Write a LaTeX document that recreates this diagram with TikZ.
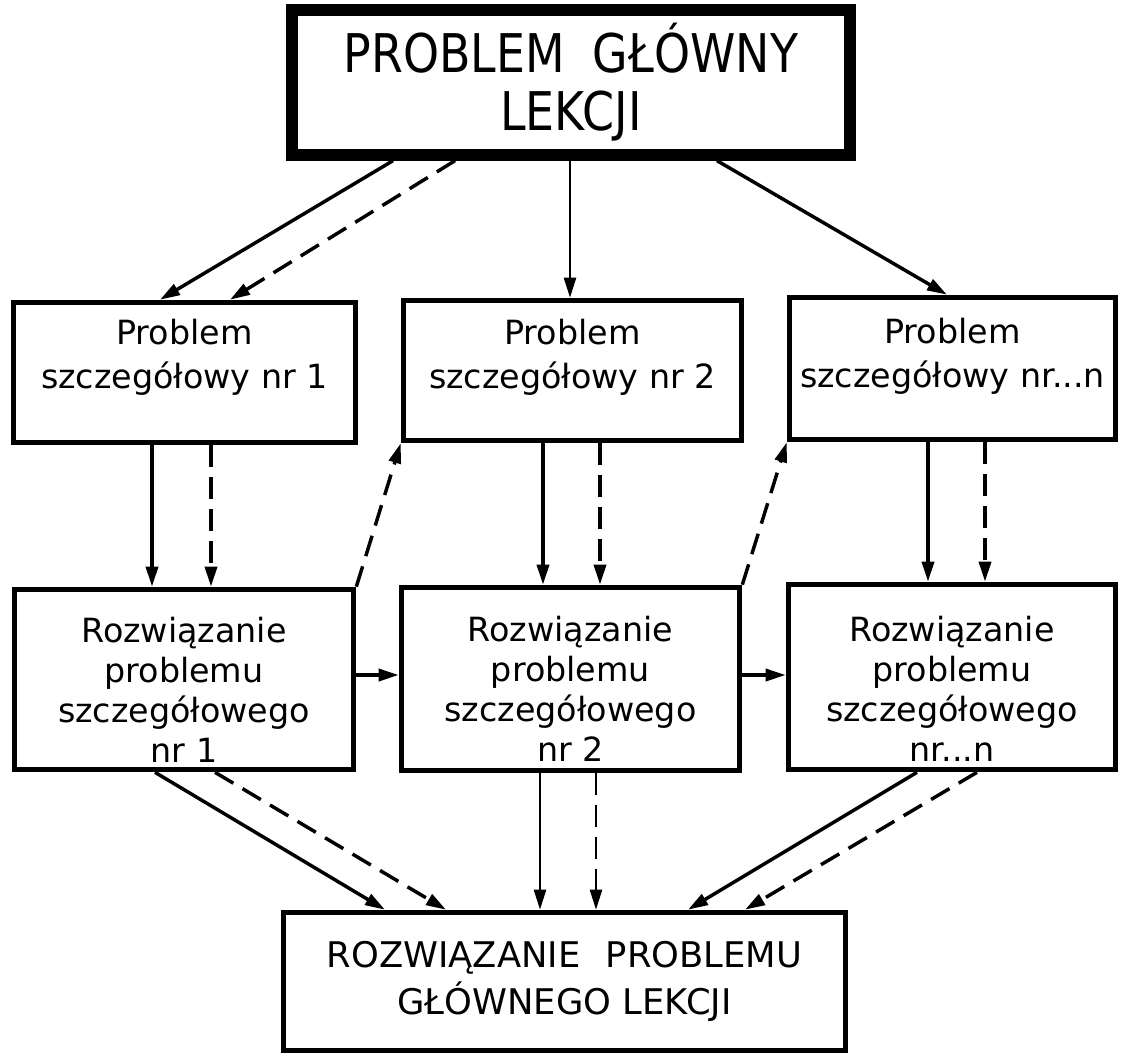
\documentclass[tikz,border=0pt]{standalone}
\usepackage{fontspec}
\setmainfont{DejaVu Sans}
\newfontfamily\narrowfont{DejaVu Sans}[FakeStretch=0.86]
\usetikzlibrary{arrows.meta,calc}

\tikzset{every picture/.style={line width=0.75pt}}
\tikzset{
	headbox/.style={draw, line width=8.5pt, inner sep=0pt, align=center},
	stepbox/.style={draw, line width=4.2pt, inner sep=0pt},
	lbl/.style={align=center, inner sep=0pt},
	arr/.style={line width=2.6pt, -{Triangle[length=15pt,width=9pt]}},
	thinarr/.style={arr, line width=1.7pt},
	darr/.style={arr, dash pattern=on 16pt off 8pt},
	thindarr/.style={darr, line width=1.7pt}
}

\begin{document}
\begin{tikzpicture}[x=0.75pt,y=0.75pt,yscale=-1,xscale=1]
		\useasboundingbox (0,0) rectangle (1125,1057);
		
		% main problem
		\node[headbox, minimum width=418.5pt, minimum height=108.75pt, font=\narrowfont\fontsize{40}{43.5}\selectfont] (T) at (571,82.5) {PROBLEM\hspace{0.25em} GŁÓWNY\\LEKCJI};
		
		% detailed problems
		\node[stepbox, minimum width=256.5pt, minimum height=105pt] (p1) at (184.5,372.5) {};
		\node[stepbox, minimum width=253.5pt, minimum height=105pt] (p2) at (572.5,370.5) {};
		\node[stepbox, minimum width=244.5pt, minimum height=106.5pt] (p3) at (952.5,368.5) {};
		
		% solutions
		\node[stepbox, minimum width=254.25pt, minimum height=135pt] (r1) at (184,679.5) {};
		\node[stepbox, minimum width=253.5pt, minimum height=137.25pt] (r2) at (570.5,679) {};
		\node[stepbox, minimum width=245.25pt, minimum height=138.75pt] (r3) at (952,677) {};
		
		% main solution
		\node[stepbox, align=center, minimum width=421.5pt, minimum height=103.5pt, font=\fontsize{26.5}{35}\selectfont] (B) at (564.5,981.5) {\raisebox{-4pt}{\shortstack{ROZWIĄZANIE\hspace{0.4em} PROBLEMU\\[2pt]GŁÓWNEGO LEKCJI}}};
		
		% Text Node
		\node[lbl, font=\fontsize{25}{33}\selectfont] (p1t) at ($(p1)+(0,-15)$) {Problem\\szczegółowy nr 1};
		\node[lbl, font=\fontsize{25}{33}\selectfont] (p2t) at ($(p2)+(0,-13)$) {Problem\\szczegółowy nr 2};
		\node[lbl, font=\fontsize{25}{33}\selectfont] (p3t) at ($(p3)+(0,-12)$) {Problem\\szczegółowy nr...n};
		\node[lbl, font=\fontsize{25}{30}\selectfont] (r1t) at ($(r1)+(0,10)$) {Rozwiązanie\\problemu\\szczegółowego\\nr 1};
		\node[lbl, font=\fontsize{25}{30}\selectfont] (r2t) at ($(r2)+(0,10)$) {Rozwiązanie\\problemu\\szczegółowego\\nr 2};
		\node[lbl, font=\fontsize{25}{30}\selectfont] (r3t) at ($(r3)+(0,12)$) {Rozwiązanie\\problemu\\szczegółowego\\nr...n};
		
		% main problem -> detailed problems
		\draw[arr] (T.south -| 393,0) -- (p1.north -| 160,0);
		\draw[darr] (T.south -| 455,0) -- (p1.north -| 230,0);
		\draw[thinarr] (T.south -| 570,0) -- (p2.north -| 570,0);
		\draw[arr] (T.south -| 717,0) -- (p3.north -| 947,0);
		
		% detailed problems -> solutions
		\foreach \i/\xs/\xd in {1/152/211, 2/543/600, 3/928/985}{
			\draw[arr] (p\i.south -| \xs,0) -- (r\i.north -| \xs,0);
			\draw[darr] (p\i.south -| \xd,0) -- (r\i.north -| \xd,0);
		}
		
		% back to the next problem
		\draw[darr] (r1.north east) -- (p2.south west);
		\draw[darr] (r2.north east) -- (p3.south west);
		\draw[arr] (r1.east |- 0,675) -- (r2.west |- 0,675);
		\draw[arr] (r2.east |- 0,675) -- (r3.west |- 0,675);
		
		% solutions -> main solution
		\draw[arr] (r1.south -| 155,0) -- (B.north -| 385,0);
		\draw[darr] (r1.south -| 215,0) -- (B.north -| 446,0);
		\draw[thinarr] (r2.south -| 540,0) -- (B.north -| 540,0);
		\draw[thindarr] (r2.south -| 596,0) -- (B.north -| 596,0);
		\draw[arr] (r3.south -| 917,0) -- (B.north -| 688,0);
		\draw[darr] (r3.south -| 977,0) -- (B.north -| 745,0);
		
\end{tikzpicture}
\end{document}
